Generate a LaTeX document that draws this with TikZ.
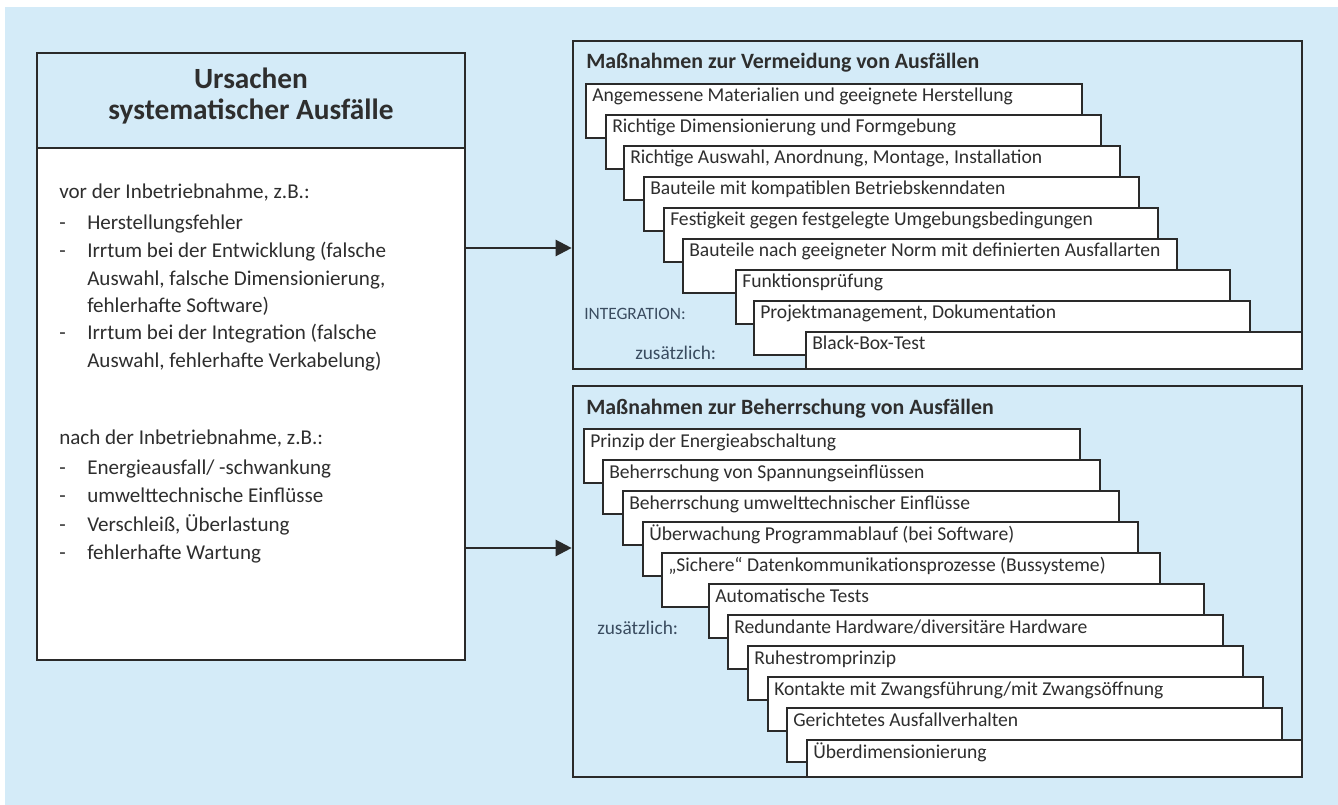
\documentclass[tikz,border=0pt]{standalone}
\usepackage{fontspec}
\setmainfont{Carlito}
\usetikzlibrary{fit,arrows.meta}
\definecolor{bgblue}{HTML}{D4EBF8}
\definecolor{ink}{HTML}{2E2E2E}
\definecolor{frameline}{HTML}{2A2A2A}
\definecolor{labelblue}{HTML}{3A4C60}

\begin{document}
\begin{tikzpicture}[x=0.75pt,y=-0.75pt,
  frame/.style={draw=frameline, line width=2pt, inner sep=0pt},
  stepbox/.style={draw=frameline, fill=white, line width=1.4pt, inner sep=0pt},
  steptext/.style={anchor=base west, inner sep=0pt, text=ink, font=\fontsize{14.7}{16}\selectfont},
  bodytext/.style={anchor=base west, inner sep=0pt, text=ink, font=\fontsize{15.8}{18}\selectfont},
  headtext/.style={anchor=base, inner sep=0pt, text=ink, font=\fontsize{22}{24}\selectfont\bfseries},
  sectitle/.style={anchor=base west, inner sep=0pt, text=ink, font=\fontsize{16.4}{18}\selectfont\bfseries},
  sidelabel/.style={anchor=base west, inner sep=0pt, text=labelblue, font=\fontsize{14.5}{16}\selectfont},
  conn/.style={draw=frameline, line width=1.8pt, -{Triangle[length=12pt,width=12pt]}}
]
\useasboundingbox (0,0) rectangle (1338,805);
\fill[bgblue] (5,7) rectangle (1338,805);

% causes box with header
\node[frame, fill=white, fit={(37,53) (465,660)}] (cause) {};
\node[frame, fill=bgblue, fit={(37,53) (465,148)}] (causehead) {};
\node[headtext] (t1) at (251,89) {Ursachen};
\node[headtext] (t2) at (251,120) {systematischer Ausfälle};

\node[bodytext] (b0) at (59,199) {vor der Inbetriebnahme, z.B.:};
\foreach \y in {230,258,340} \node[bodytext] at (59,\y) {-};
\node[bodytext] (b1) at (87,230) {Herstellungsfehler};
\node[bodytext] (b2) at (87,258) {Irrtum bei der Entwicklung (falsche};
\node[bodytext] (b3) at (87,285.5) {Auswahl, falsche Dimensionierung,};
\node[bodytext] (b4) at (87,313) {fehlerhafte Software)};
\node[bodytext] (b5) at (87,340) {Irrtum bei der Integration (falsche};
\node[bodytext] (b6) at (87,367.5) {Auswahl, fehlerhafte Verkabelung)};

\node[bodytext] (c0) at (59,444) {nach der Inbetriebnahme, z.B.:};
\foreach \y in {474,502.5,531,559} \node[bodytext] at (59,\y) {-};
\node[bodytext] (c1) at (87,474) {Energieausfall/ -schwankung};
\node[bodytext] (c2) at (87,502.5) {umwelttechnische Einflüsse};
\node[bodytext] (c3) at (87,531) {Verschleiß, Überlastung};
\node[bodytext] (c4) at (87,559) {fehlerhafte Wartung};

% measures to avoid failures
\node[sectitle] (avoidtitle) at (586,69) {Maßnahmen zur Vermeidung von Ausfällen};
\foreach \l/\t/\r/\txt [count=\i] in {
  586/84/1082/{Angemessene Materialien und geeignete Herstellung},
  606/115/1101/{Richtige Dimensionierung und Formgebung},
  624/146/1120/{Richtige Auswahl, Anordnung, Montage, Installation},
  644/177/1139/{Bauteile mit kompatiblen Betriebskenndaten},
  664/208/1158/{Festigkeit gegen festgelegte Umgebungsbedingungen},
  683/239/1177/{Bauteile nach geeigneter Norm mit definierten Ausfallarten},
  736/270/1230/{Funktionsprüfung},
  754/301/1250/{Projektmanagement, Dokumentation},
  806/332/1302/{Black-Box-Test}} {
  \pgfmathsetmacro\b{min(\t+54,369)}
  \node[stepbox, fit={(\l,\t) (\r,\b)}] (v\i) {};
  \node[steptext] (vt\i) at (\l+6,\t+18) {\txt};
}
\node[sidelabel, font=\fontsize{13}{15}\selectfont] (integ) at (584,320) {INTEGRATION:};
\node[sidelabel] (extra1) at (635,359) {zusätzlich:};
\node[frame, fit={(573,41) (1302,369)}] (avoid) {};

% measures to control failures
\node[sectitle] (ctrltitle) at (586,414) {Maßnahmen zur Beherrschung von Ausfällen};
\foreach \l/\t/\r/\txt [count=\i] in {
  584/429/1080/{Prinzip der Energieabschaltung},
  603/460/1100/{Beherrschung von Spannungseinflüssen},
  623/491/1119/{Beherrschung umwelttechnischer Einflüsse},
  643/522/1138/{Überwachung Programmablauf (bei Software)},
  662/553/1160/{„Sichere“ Datenkommunikationsprozesse (Bussysteme)},
  709/584/1204/{Automatische Tests},
  728/615/1223/{Redundante Hardware/diversitäre Hardware},
  748/646/1243/{Ruhestromprinzip},
  768/677/1263/{Kontakte mit Zwangsführung/mit Zwangsöffnung},
  787/708/1282/{Gerichtetes Ausfallverhalten},
  807/740/1302/{Überdimensionierung}} {
  \pgfmathsetmacro\b{min(\t+54,777)}
  \node[stepbox, fit={(\l,\t) (\r,\b)}] (w\i) {};
  \node[steptext] (wt\i) at (\l+6,\t+18) {\txt};
}
\node[sidelabel] (extra2) at (597,634) {zusätzlich:};
\node[frame, fit={(573,386) (1302,777)}] (ctrl) {};

% connectors
\coordinate (ya) at (0,248);
\coordinate (yb) at (0,548);
\draw[conn] (cause.east |- ya) -- (avoid.west |- ya);
\draw[conn] (cause.east |- yb) -- (ctrl.west |- yb);
\end{tikzpicture}
\end{document}
